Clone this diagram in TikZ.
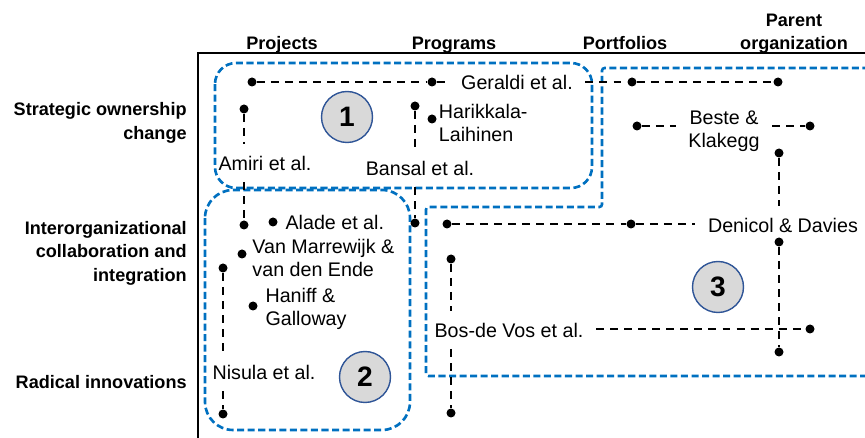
\documentclass[tikz,border=0pt]{standalone}
\usepackage{fontspec}
\setmainfont{Liberation Sans}
\usetikzlibrary{positioning}
\definecolor{grpblue}{HTML}{0070C0}
\definecolor{numblue}{HTML}{2F5597}
\definecolor{numgray}{HTML}{D9D9D9}
\newcommand{\studyfont}{\fontsize{11.2}{13.3}\selectfont}
\newcommand{\headfont}{\bfseries\fontsize{10.3}{13.3}\selectfont}

\begin{document}
\begin{tikzpicture}[x=0.02cm, y=-0.02cm,
    dot/.style={circle, fill=black, inner sep=0pt, minimum size=0.18cm},
    study/.style={inner xsep=7pt, inner ysep=6.5pt, font=\studyfont},
    studyside/.style={inner sep=1pt, font=\studyfont, align=left},
    conn/.style={line width=0.9pt, dash pattern=on 4.5pt off 3.5pt},
    grp/.style={draw=grpblue, line width=1.5pt, dash pattern=on 4pt off 2pt},
    num/.style={circle, draw=numblue, fill=numgray, line width=0.8pt,
        minimum size=1.02cm, inner sep=0pt, font=\bfseries\fontsize{16}{16}\selectfont},
    colhead/.style={font=\headfont, align=center, inner sep=0pt, anchor=base},
    rowlabel/.style={font=\headfont, align=right, inner sep=0pt, anchor=east}]

    \useasboundingbox (0,0) rectangle (865,438);
    \clip (0,0) rectangle (865,438);

    % axes and headings
    \draw[line width=1.1pt] (198,440) -- (198,53) -- (870,53);

    \node[colhead] (hproj) at (282,49.5) {Projects};
    \node[colhead] (hprog) at (454,49.5) {Programs};
    \node[colhead] (hport) at (625,49.5) {Portfolios};
    \node[colhead] (hpar) at (794,49.5) {Parent\\organization};

    \node[rowlabel] (rown) at (187,123) {Strategic ownership\\change};
    \node[rowlabel] (rcol) at (187,253) {Interorganizational\\collaboration and\\integration};
    \node[rowlabel] (rrad) at (187,382) {Radical innovations};

    % groups
    \draw[grp, rounded corners=12pt] (215,63) rectangle (592,188);
    \draw[grp, rounded corners=16pt] (205,190) rectangle (410,430);
    \draw[grp, rounded corners=1.5pt] (880,68) -- (602,68) -- (602,207)
        -- (426,207) -- (426,376) -- (880,376);

    \node[num] (c1) at (347,117) {1};
    \node[num] (c2) at (365,377) {2};
    \node[num] (c3) at (718,287) {3};

    % Geraldi
    \node[dot] (ge1) at (252,82) {};
    \node[dot] (ge2) at (432,82) {};
    \node[dot] (ge3) at (632,82) {};
    \node[dot] (ge4) at (778,82) {};
    \node[study] (geL) at (517,82) {Geraldi et al.};
    \draw[conn] (ge1) -- (ge2) -- (ge2 -| geL.west);
    \draw[conn] (geL.east |- ge3) -- (ge3) -- (ge4);

    % Amiri
    \node[dot] (am1) at (244,109) {};
    \node[dot] (am2) at (244,225) {};
    \node[study] (amL) at (265,163) {Amiri et al.};
    \draw[conn] (am1) -- (am1 |- amL.north);
    \draw[conn] (am2 |- amL.south) -- (am2);

    % Bansal
    \node[dot] (ba1) at (415,106) {};
    \node[dot] (ba2) at (415,223) {};
    \node[study] (baL) at (420,168) {Bansal et al.};
    \draw[conn] (ba1) -- (ba1 |- baL.north);
    \draw[conn] (ba2 |- baL.south) -- (ba2);

    % Harikkala-Laihinen
    \node[dot] (hk) at (432,119) {};
    \node[studyside, right=0pt of hk, yshift=-0.08cm] (hkL) {Harikkala-\\Laihinen};

    % Beste & Klakegg
    \node[dot] (bk1) at (637,126) {};
    \node[dot] (bk2) at (810,126) {};
    \node[study, align=center] (bkL) at (724,131) {Beste \&\\Klakegg};
    \draw[conn] (bk1) -- (bk1 -| bkL.west);
    \draw[conn] (bkL.east |- bk2) -- (bk2);

    % Denicol & Davies
    \node[dot] (dd1) at (447,224) {};
    \node[dot] (dd2) at (631,224) {};
    \node[dot] (dd3) at (779,153) {};
    \node[dot] (dd4) at (779,242) {};
    \node[dot] (dd5) at (779,352) {};
    \node[study] (ddL) at (783,225) {Denicol \& Davies};
    \draw[conn] (dd1) -- (dd2) -- (dd2 -| ddL.west);
    \draw[conn] (dd3) -- (dd3 |- ddL.north);
    \draw[conn] (dd4) -- (dd5);

    % Bos-de Vos
    \node[dot] (bv1) at (451,259) {};
    \node[dot] (bv2) at (451,413) {};
    \node[dot] (bv3) at (810,329) {};
    \node[study] (bvL) at (509,330) {Bos-de Vos et al.};
    \draw[conn] (bv1) -- (bv1 |- bvL.north);
    \draw[conn] (bv2 |- bvL.south) -- (bv2);
    \draw[conn] (bvL.east |- bv3) -- (bv3);

    % Alade, Van Marrewijk, Haniff
    \node[dot] (al) at (273,222) {};
    \node[studyside, right=3.2pt of al] (alL) {Alade et al.};
    \node[dot] (vm) at (242,254) {};
    \node[studyside, right=2pt of vm, yshift=-0.08cm] (vmL) {Van Marrewijk \&\\van den Ende};
    \node[dot] (hg) at (253,306) {};
    \node[studyside, right=3.2pt of hg, yshift=-0.06cm] (hgL) {Haniff \&\\Galloway};

    % Nisula
    \node[dot] (ni1) at (223,268) {};
    \node[dot] (ni2) at (223,414) {};
    \node[study] (niL) at (264,372) {Nisula et al.};
    \draw[conn] (ni1) -- (ni1 |- niL.north);
    \draw[conn] (ni2 |- niL.south) -- (ni2);

\end{tikzpicture}
\end{document}
